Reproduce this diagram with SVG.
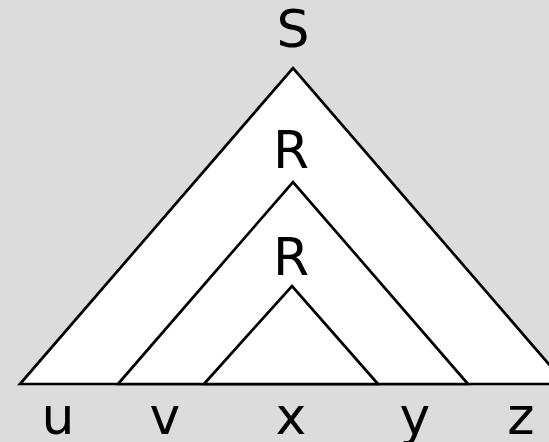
<svg xmlns="http://www.w3.org/2000/svg" width="549" height="442" viewBox="0 0 549 442">
<style>
.tri{fill:#ffffff;stroke:#000000;stroke-width:2.7;stroke-linejoin:miter}
.lbl{font-family:"DejaVu Sans",sans-serif;font-size:52px;fill:#000000;text-anchor:middle}
</style>
<rect width="549" height="442" fill="#dcdcdc"/>
<g id="S">
<polygon class="tri" points="20,384 293,68 566,384"/>
<text class="lbl" x="293" y="47">S</text>
</g>
<g id="R1">
<polygon class="tri" points="118,384 293,182 468,384"/>
<text class="lbl" x="291" y="168">R</text>
</g>
<g id="R2">
<polygon class="tri" points="204,384 292,286 378,384"/>
<text class="lbl" x="291" y="275">R</text>
</g>
<g id="connectors"></g>
<g id="leaves">
<text class="lbl" x="58" y="434">u</text>
<text class="lbl" x="165" y="434">v</text>
<text class="lbl" x="291" y="434">x</text>
<text class="lbl" x="415" y="434">y</text>
<text class="lbl" x="521" y="434">z</text>
</g>
</svg>
